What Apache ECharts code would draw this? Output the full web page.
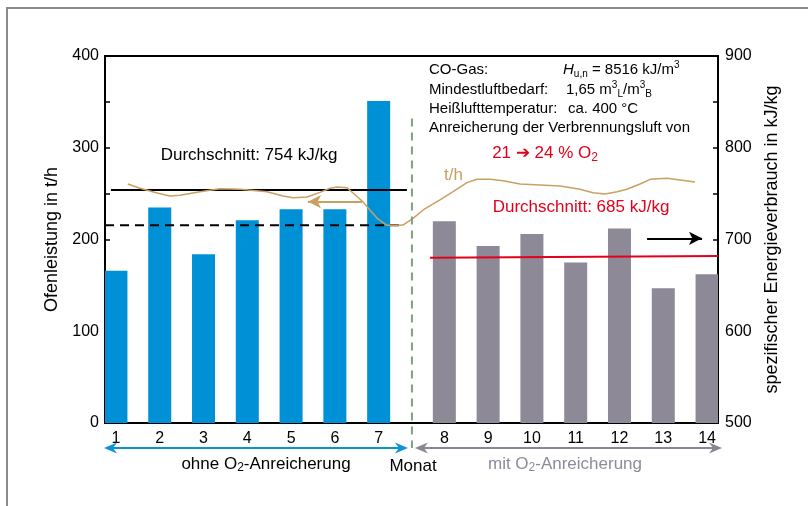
<!DOCTYPE html>
<html>
<head>
<meta charset="utf-8">
<script src="https://cdn.jsdelivr.net/npm/echarts@6/dist/echarts.min.js"></script>
<style>
html,body{margin:0;padding:0;background:#fff;}
#c{width:808px;height:506px;}
</style>
</head>
<body>
<div id="c"></div>
<script>
// ---- data ----
const months = ['1','2','3','4','5','6','7','8','9','10','11','12','13','14'];
const energyWithout = [666, 735, 684, 721, 733, 733, 851];       // kJ/kg, months 1-7
const energyWith = [720, 693, 706, 675, 712, 647, 662];          // kJ/kg, months 8-14
const leftTicks = [0, 100, 200, 300, 400];
const rightTicks = [500, 600, 700, 800, 900];
// t/h curve: position (half-month slot units) and value (t/h)
const tphPos = [0.54,1.10,1.88,2.47,2.93,3.84,4.75,5.67,6.90,7.63,8.09,8.73,9.32,9.78,10.10,10.55,10.83,11.28,11.60,11.92,12.38,12.97,13.11,13.57,14.03,14.80,15.40,16.03,16.49,17.09,17.68,18.46,19.37,20.28,21.20,21.79,22.34,22.89,23.34,23.94,24.40,25.17,25.77,26.45];
const tphVal = [260.5,255.8,250.7,247.4,248.2,252.1,255.4,254.7,252.1,247.4,245.6,246.3,251.4,255.8,257.2,256.5,250.7,241.2,232.2,223.4,215.5,215.5,215.8,223.1,232.2,243.1,252.1,262,265.6,265.6,264.1,260.5,259.4,258.3,254.7,251,249.6,252.1,254.7,260.5,265.6,266.7,264.9,262.7];
const avgWithoutPos = [-0.23, 13.29];  const avgWithoutVal = [754, 754];   // kJ/kg
const avgTphPos = [-0.5, 12.97];       const avgTphVal = [215.5, 215.5];  // t/h
const avgWithPos = [14.34, 27.5];      const avgWithVal = [680, 682];     // kJ/kg
const dividerPos = 13.52;

// ---- build ----
const F = '"Liberation Sans", Arial, Helvetica, sans-serif';
const nSlots = 28;
function slotOf(i){ return i < 7 ? 2*i : 2*i + 1; }
const cats = new Array(nSlots).fill('');
const blue = new Array(nSlots).fill('-');
const gray = new Array(nSlots).fill('-');
months.forEach((m,i)=>{ cats[slotOf(i)] = m; });
energyWithout.forEach((v,i)=>{ blue[slotOf(i)] = v; });
energyWith.forEach((v,i)=>{ gray[slotOf(i+7)] = v; });
const zip = (a,b)=>a.map((x,i)=>[x,b[i]]);

const chart = echarts.init(document.getElementById('c'), null, {renderer:'canvas'});
const option = {
  animation:false,
  textStyle:{fontFamily:F},
  grid:{left:105, right:90, top:56, bottom:83, show:true, borderColor:'#000', borderWidth:2, backgroundColor:'transparent'},
  xAxis:[
    {type:'category', data:cats, boundaryGap:true,
     axisLine:{onZero:false, lineStyle:{color:'#000', width:2}}, axisTick:{show:false},
     axisLabel:{interval:0, fontSize:16, color:'#000', margin:8, fontFamily:F},
     splitLine:{show:false}},
    {type:'value', min:-0.5, max:27.5, show:false, axisLine:{onZero:false}}
  ],
  yAxis:[
    {type:'value', min:0, max:400, interval:50, position:'left',
     name:'Ofenleistung in t/h', nameLocation:'middle', nameGap:44,
     nameTextStyle:{fontSize:18, color:'#000', fontFamily:F},
     axisLine:{show:true, onZero:false, lineStyle:{color:'#000', width:2}},
     axisTick:{show:true, inside:true, length:5, lineStyle:{color:'#000', width:1.5}},
     axisLabel:{fontSize:16, color:'#000', margin:6, fontFamily:F,
       formatter:v=> leftTicks.includes(v) ? String(v) : ''},
     splitLine:{show:false}},
    {type:'value', min:500, max:900, interval:50, position:'right',
     name:'spezifischer Energieverbrauch in kJ/kg', nameLocation:'middle', nameGap:45, nameRotate:90,
     nameTextStyle:{fontSize:18, color:'#000', fontFamily:F},
     axisLine:{show:true, onZero:false, lineStyle:{color:'#000', width:2}},
     axisTick:{show:true, inside:true, length:5, lineStyle:{color:'#000', width:1.5}},
     axisLabel:{fontSize:16, color:'#000', margin:7, fontFamily:F,
       formatter:v=> rightTicks.includes(v) ? String(v) : ''},
     splitLine:{show:false}}
  ],
  series:[
    {type:'bar', name:'ohne', xAxisIndex:0, yAxisIndex:1, data:blue, barWidth:23, barGap:'-100%',
     itemStyle:{color:'#0090d6'}, z:2},
    {type:'bar', name:'mit', xAxisIndex:0, yAxisIndex:1, data:gray, barWidth:23, barGap:'-100%',
     itemStyle:{color:'#8d8997'}, z:2},
    {type:'line', name:'avgTph', xAxisIndex:1, yAxisIndex:0, data:zip(avgTphPos, avgTphVal),
     symbol:'none', lineStyle:{color:'#000', width:2, type:[9,6]}, z:4},
    {type:'line', name:'avgWithout', xAxisIndex:1, yAxisIndex:1, data:zip(avgWithoutPos, avgWithoutVal),
     symbol:'none', lineStyle:{color:'#000', width:2}, z:4},
    {type:'line', name:'avgWith', xAxisIndex:1, yAxisIndex:1, data:zip(avgWithPos, avgWithVal),
     symbol:'none', lineStyle:{color:'#e3001b', width:2}, z:4},
    {type:'line', name:'t/h', xAxisIndex:1, yAxisIndex:0, data:zip(tphPos, tphVal),
     symbol:'none', lineStyle:{color:'#c9a063', width:1.5}, z:5,
     markLine:{silent:true, symbol:['none','arrow'], symbolSize:[10,13], label:{show:false},
       data:[
         [{coord:[11.24,241.2], lineStyle:{color:'#c9a063', width:2, type:'solid'}}, {coord:[8.77,241.2]}],
         [{coord:[24.26,201.3], lineStyle:{color:'#000', width:2, type:'solid'}}, {coord:[26.77,201.3]}]
       ]}}
  ]
};
chart.setOption(option);

// ---- annotations ----
const px = v => chart.convertToPixel({xAxisIndex:1}, v);
const py = v => chart.convertToPixel({yAxisIndex:0}, v);
const xDiv = px(dividerPos), xL = px(-0.5), xR = px(27.5);
const yArrow = 448;
function arrowHead(xTip, y, dir, color){
  const L = 13, W = 5.5, back = 4;
  return {type:'polygon', shape:{points:[[xTip,y],[xTip-dir*L,y-W],[xTip-dir*(L-back),y],[xTip-dir*L,y+W]]},
          style:{fill:color}, z:10};
}
const blueC = '#0a94d6', grayC = '#8a8699';
const T = (x,y,text,extra)=>Object.assign({type:'text', x:x, y:y, z:20,
   style:Object.assign({text:text, font:'15px '+F, fill:'#000', textVerticalAlign:'middle'}, extra||{})});
const sup = {fontSize:10, fontFamily:F, verticalAlign:'top', lineHeight:11, fill:'#000'};
const sub = {fontSize:10, fontFamily:F, verticalAlign:'bottom', lineHeight:11, fill:'#000'};
const nrm = {fontSize:15, fontFamily:F, lineHeight:19, fill:'#000'};
const nrmI = {fontSize:15, fontFamily:F, lineHeight:19, fill:'#000', fontStyle:'italic'};
const redN = {fontSize:17, fontFamily:F, lineHeight:22, fill:'#e3001b'};
const redS = {fontSize:12, fontFamily:F, lineHeight:12, verticalAlign:'bottom', fill:'#e3001b'};

chart.setOption({graphic:[
  {type:'polyline', shape:{points:[[7,506],[7,8],[808,8]]}, style:{stroke:'#8a8a8a', lineWidth:2, fill:null}, z:1},
  {type:'line', shape:{x1:xDiv, y1:py(332), x2:xDiv, y2:yArrow}, style:{stroke:'#80a080', lineWidth:2, lineDash:[8,6]}, z:9},
  {type:'line', shape:{x1:xL+4, y1:yArrow, x2:xDiv-8, y2:yArrow}, style:{stroke:blueC, lineWidth:2}, z:10},
  arrowHead(xL-1, yArrow, -1, blueC), arrowHead(xDiv-4, yArrow, 1, blueC),
  {type:'line', shape:{x1:xDiv+7, y1:yArrow, x2:xR, y2:yArrow}, style:{stroke:grayC, lineWidth:2}, z:10},
  arrowHead(xDiv+3, yArrow, -1, grayC), arrowHead(xR+4, yArrow, 1, grayC),
  T(266, 464, '{n|ohne O}{s|2}{n|-Anreicherung}', {align:'center', rich:{n:Object.assign({},nrm,{fontSize:17}), s:Object.assign({},sub,{fontSize:12})}}),
  T(413, 466, 'Monat', {align:'center', font:'17px '+F}),
  T(565, 464, '{n|mit O}{s|2}{n|-Anreicherung}', {align:'center', rich:{n:Object.assign({},nrm,{fontSize:17, fill:'#8e8a9c'}), s:Object.assign({},sub,{fontSize:12, fill:'#8e8a9c'})}}),
  T(429, 70, 'CO-Gas:'),
  T(563, 70, '{i|H}{b|u,n}{n| = 8516 kJ/m}{p|3}', {rich:{i:nrmI, b:sub, n:nrm, p:sup}}),
  T(429, 90, 'Mindestluftbedarf:'),
  T(566, 90, '{n|1,65 m}{p|3}{b|L}{n|/m}{p|3}{b|B}', {rich:{n:nrm, p:sup, b:sub}}),
  T(429, 109, 'Heißlufttemperatur:'),
  T(568, 109, 'ca. 400 °C'),
  T(429, 128, 'Anreicherung der Verbrennungsluft von'),
  T(545, 153, '{n|21 ➔ 24 % O}{s|2}', {align:'center', rich:{n:redN, s:redS}}),
  T(444, 175, 't/h', {font:'17px '+F, fill:'#c9a063'}),
  T(581, 207, 'Durchschnitt: 685 kJ/kg', {align:'center', font:'17px '+F, fill:'#e3001b'}),
  T(249, 155, 'Durchschnitt: 754 kJ/kg', {align:'center', font:'17px '+F})
]});
</script>
</body>
</html>
